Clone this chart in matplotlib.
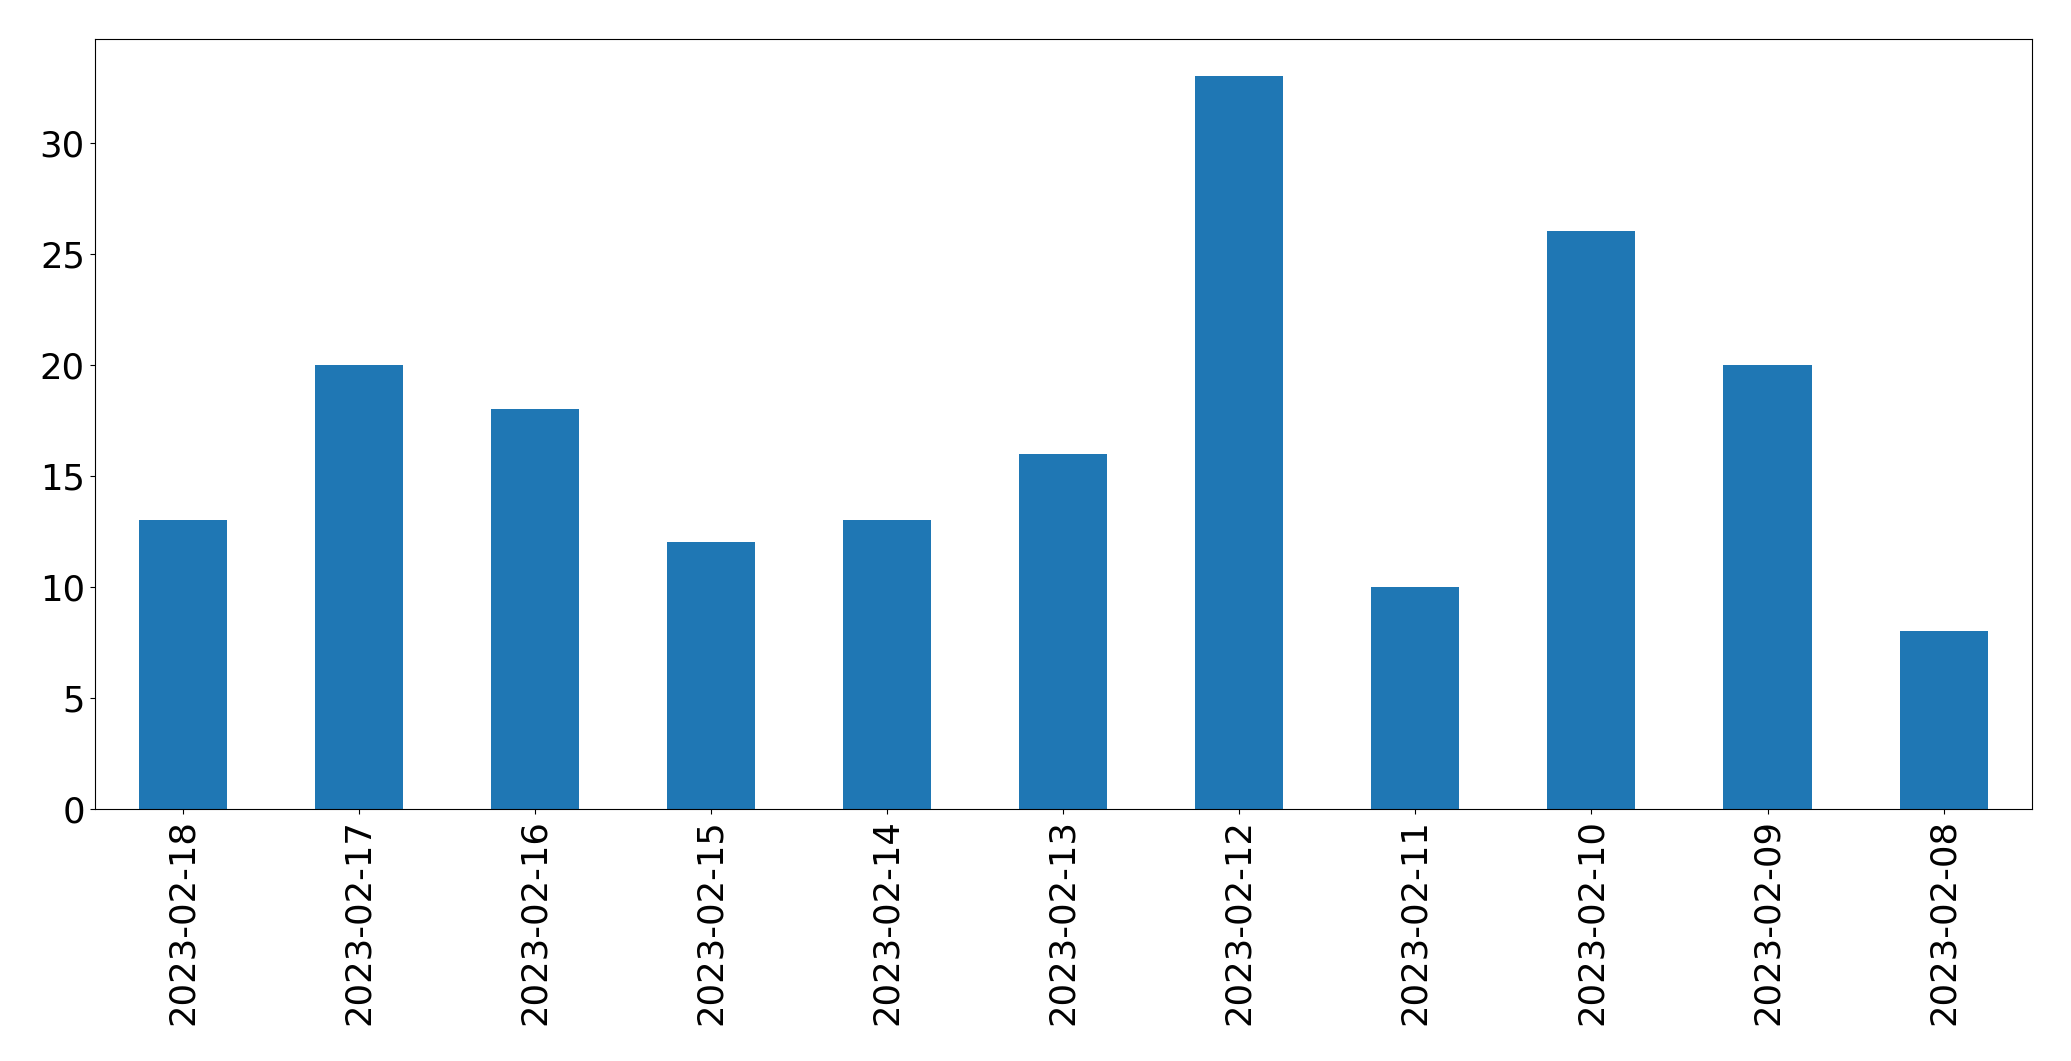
import matplotlib
matplotlib.use("Agg")
import matplotlib.pyplot as plt
import numpy as np

dates = [
    "2023-02-18", "2023-02-17", "2023-02-16", "2023-02-15", "2023-02-14",
    "2023-02-13", "2023-02-12", "2023-02-11", "2023-02-10", "2023-02-09",
    "2023-02-08",
]
counts = [13, 20, 18, 12, 13, 16, 33, 10, 26, 20, 8]

fig, ax = plt.subplots(figsize=(20.71, 10.61), dpi=100)
fig.subplots_adjust(left=0.0457, right=0.981, top=0.963, bottom=0.2375)

xs = np.arange(len(dates))
ax.bar(xs, counts, width=0.5, color="#1f77b4")
ax.set_xlim(-0.5, len(dates) - 0.5)
ax.set_xticks(xs)
ax.set_xticklabels(dates, rotation=90)
ax.tick_params(axis="both", labelsize=25.5)

plt.savefig("out.png")
